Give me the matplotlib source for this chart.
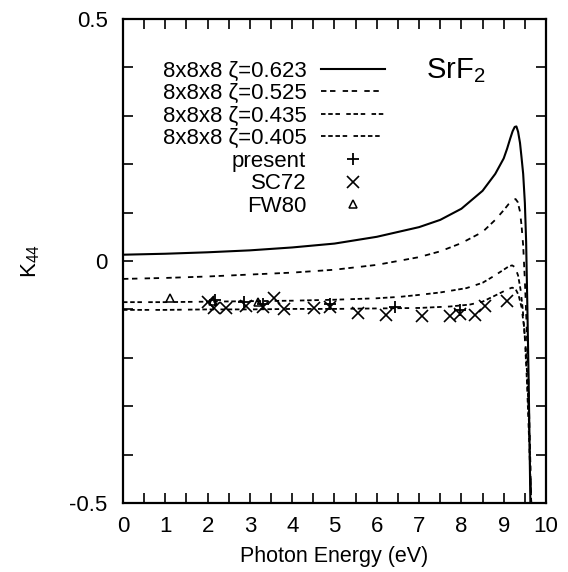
import matplotlib
matplotlib.use('Agg')
from matplotlib import pyplot as plt
from matplotlib.ticker import MultipleLocator

plt.rcParams['font.family'] = ['Liberation Sans', 'DejaVu Sans']
plt.rcParams['mathtext.default'] = 'regular'

# calculated K44 curves
e_623 = [0, 1, 2, 3, 4, 5, 6, 7, 7.5, 8, 8.5, 8.8, 9.0, 9.08, 9.15, 9.21, 9.26, 9.3, 9.34, 9.385, 9.42, 9.46,
         9.5, 9.53, 9.56, 9.59, 9.61, 9.63]
k_623 = [0.013, 0.015, 0.018, 0.022, 0.028, 0.036, 0.050, 0.070, 0.085, 0.108, 0.145, 0.180, 0.212, 0.232, 0.252,
         0.268, 0.277, 0.278, 0.267, 0.244, 0.215, 0.18, 0.12, 0.04, -0.1, -0.25, -0.37, -0.5]

e_525 = [0, 1, 2, 3, 4, 5, 6, 7, 7.5, 8, 8.5, 8.8, 9.0, 9.12, 9.22, 9.28, 9.33, 9.38, 9.42, 9.46, 9.5, 9.54,
         9.58, 9.62, 9.65]
k_525 = [-0.037, -0.035, -0.032, -0.028, -0.024, -0.018, -0.008, 0.008, 0.02, 0.037, 0.06, 0.085, 0.105, 0.118,
         0.126, 0.128, 0.122, 0.104, 0.075, 0.032, -0.04, -0.13, -0.24, -0.38, -0.5]

e_435 = [0, 1, 2, 3, 4, 5, 6, 6.55, 7, 7.5, 8.12, 8.5, 8.75, 9.0, 9.12, 9.2, 9.27, 9.34, 9.4, 9.45, 9.5, 9.55,
         9.6, 9.65]
k_435 = [-0.085, -0.085, -0.084, -0.083, -0.082, -0.080, -0.077, -0.074, -0.070, -0.065, -0.056, -0.045, -0.032,
         -0.018, -0.011, -0.009, -0.013, -0.03, -0.06, -0.1, -0.16, -0.25, -0.37, -0.5]

e_405 = [0, 1, 2, 3, 4, 5, 6, 7, 7.73, 8.2, 8.5, 8.9, 9.1, 9.2, 9.28, 9.35, 9.42, 9.48, 9.53, 9.58, 9.62, 9.65]
k_405 = [-0.101, -0.101, -0.100, -0.100, -0.099, -0.099, -0.098, -0.097, -0.094, -0.09, -0.084, -0.067, -0.058,
         -0.055, -0.058, -0.07, -0.095, -0.135, -0.19, -0.29, -0.4, -0.5]

# experimental points
present_e = [2.17, 2.85, 3.31, 4.89, 6.43, 7.97]
present_k = [-0.081, -0.084, -0.089, -0.089, -0.095, -0.101]

sc72_e = [2.02, 2.16, 2.44, 2.91, 3.30, 3.57, 3.81, 4.52, 4.89, 5.56, 6.22, 7.06, 7.73, 7.97, 8.31, 8.56, 9.07]
sc72_k = [-0.084, -0.098, -0.098, -0.093, -0.094, -0.077, -0.099, -0.098, -0.096, -0.108, -0.112, -0.114,
          -0.114, -0.110, -0.112, -0.093, -0.082]

fw80_e = [1.11, 2.12, 3.18]
fw80_k = [-0.077, -0.082, -0.085]

fig = plt.figure(figsize=(5.68, 5.72), dpi=100)
ax = fig.add_axes([0.2165, 0.1206, 0.7448, 0.8462])

ax.plot(e_623, k_623, c='black', linewidth=1.5, label=u'8x8x8 \u03b6=0.623')
ax.plot(e_525, k_525, c='black', linewidth=1.3, dashes=(3, 2, 3, 4), label=u'8x8x8 \u03b6=0.525')
ax.plot(e_435, k_435, c='black', linewidth=1.3, dashes=(2.5, 1.5, 2.5, 1.5, 2.5, 3.5), label=u'8x8x8 \u03b6=0.435')
ax.plot(e_405, k_405, c='black', linewidth=1.3, dashes=(2.5, 1.5, 2.5, 1.5, 2.5, 1.5, 2.5, 3.5),
        label=u'8x8x8 \u03b6=0.405')
ax.plot(present_e, present_k, '+', c='black', markersize=9, markeredgewidth=1.3, label='present')
ax.plot(sc72_e, sc72_k, 'x', c='black', markersize=9, markeredgewidth=1.2, label='SC72')
ax.plot(fw80_e, fw80_k, '^', c='black', markerfacecolor='none', markersize=6, markeredgewidth=1.1, label='FW80')

ax.set_xlim(0, 10)
ax.set_ylim(-0.5, 0.5)
ax.xaxis.set_major_locator(MultipleLocator(1))
ax.xaxis.set_minor_locator(MultipleLocator(0.5))
ax.set_yticks([-0.5, 0, 0.5])
ax.set_yticklabels(['-0.5', '0', '0.5'])
ax.yaxis.set_minor_locator(MultipleLocator(0.1))
ax.tick_params(axis='both', which='both', direction='in', top=True, right=True, length=7, width=1.2)
ax.tick_params(axis='y', which='major', pad=11, labelsize=16)
ax.tick_params(axis='x', which='major', pad=9, labelsize=16)
for s in ax.spines.values():
    s.set_linewidth(1.6)

ax.set_xlabel('Photon Energy (eV)', fontsize=15.5, labelpad=7)
ax.set_ylabel('K$_{44}$', fontsize=16, labelpad=20)
ax.text(0.717, 0.893, 'SrF$_2$', transform=ax.transAxes, fontsize=21, ha='left', va='center')

ax.legend(loc='upper right', bbox_to_anchor=(0.646, 0.937), frameon=False, markerfirst=False,
          fontsize=16, handlelength=2.9, handletextpad=0.65, labelspacing=0.07, borderpad=0)

plt.savefig('out.png', dpi=100)
